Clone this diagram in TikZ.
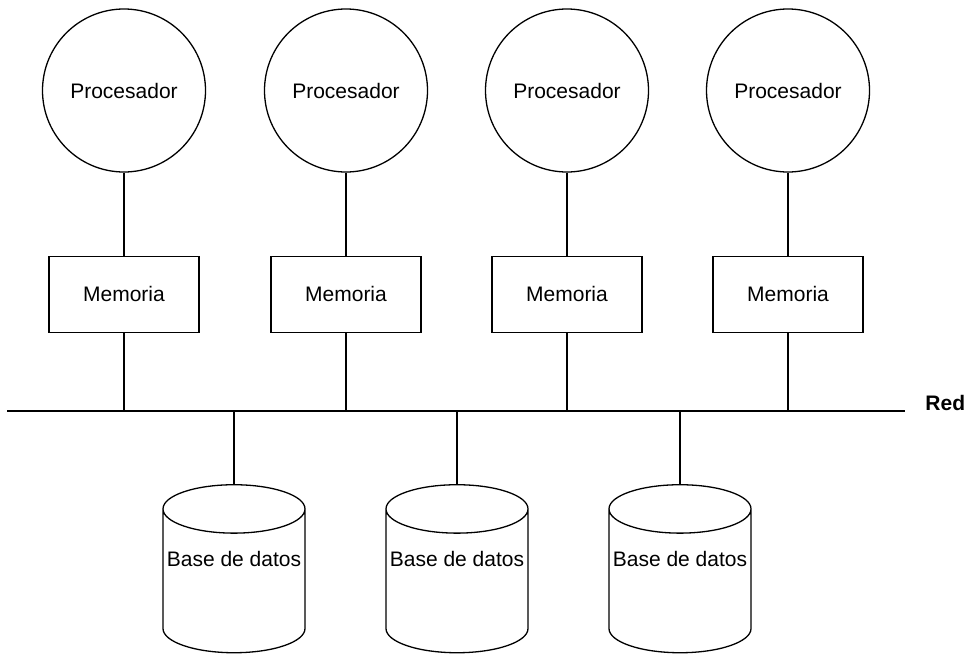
\documentclass[tikz,border=0pt]{standalone}
\usepackage{fontspec}
\setsansfont{Liberation Sans}
\usepackage{tikz}
\usetikzlibrary{positioning,shapes.geometric}

\begin{document}
\begin{tikzpicture}[
  x=0.5pt, y=-0.5pt,
  font=\sffamily\fontsize{10.5}{12}\selectfont,
  proc/.style={draw, circle, minimum size=81.5pt, inner sep=0pt, line width=0.65pt},
  mem/.style={draw, minimum width=75pt, minimum height=38pt, inner sep=2pt, line width=0.75pt},
  db/.style={draw, cylinder, shape border rotate=90, aspect=0.35,
             minimum width=71pt, minimum height=84pt, inner sep=1pt,
             text height=7.5pt, text depth=25.5pt, line width=0.65pt},
  wire/.style={line width=1pt},
  bus/.style={line width=1.15pt}
]
\useasboundingbox (0,0) rectangle (973,653);

\coordinate (netL) at (7,411);
\coordinate (netR) at (905,411);
\draw[bus] (netL) -- (netR);
\node[font=\sffamily\bfseries\fontsize{10.5}{12}\selectfont, anchor=base west, inner sep=0pt]
  (red) at (925,410) {Red};

\node[proc] (p1) at (124,90.5) {Procesador};
\node[proc] (p2) at (346,90.5) {Procesador};
\node[proc] (p3) at (567,90.5) {Procesador};
\node[proc] (p4) at (788,90.5) {Procesador};

\node[mem, below=41.5pt of p1] (m1) {Memoria};
\node[mem, below=41.5pt of p2] (m2) {Memoria};
\node[mem, below=41.5pt of p3] (m3) {Memoria};
\node[mem, below=41.5pt of p4] (m4) {Memoria};

\draw[wire] (p1) -- (m1);
\draw[wire] (p2) -- (m2);
\draw[wire] (p3) -- (m3);
\draw[wire] (p4) -- (m4);
\draw[wire] (m1) -- (m1 |- netL);
\draw[wire] (m2) -- (m2 |- netL);
\draw[wire] (m3) -- (m3 |- netL);
\draw[wire] (m4) -- (m4 |- netL);

\node[db] (d1) at (234,584) {Base de datos};
\node[db] (d2) at (457,584) {Base de datos};
\node[db] (d3) at (680,584) {Base de datos};

\draw[wire] (d1.north) -- (d1.north |- netL);
\draw[wire] (d2.north) -- (d2.north |- netL);
\draw[wire] (d3.north) -- (d3.north |- netL);
\end{tikzpicture}
\end{document}
